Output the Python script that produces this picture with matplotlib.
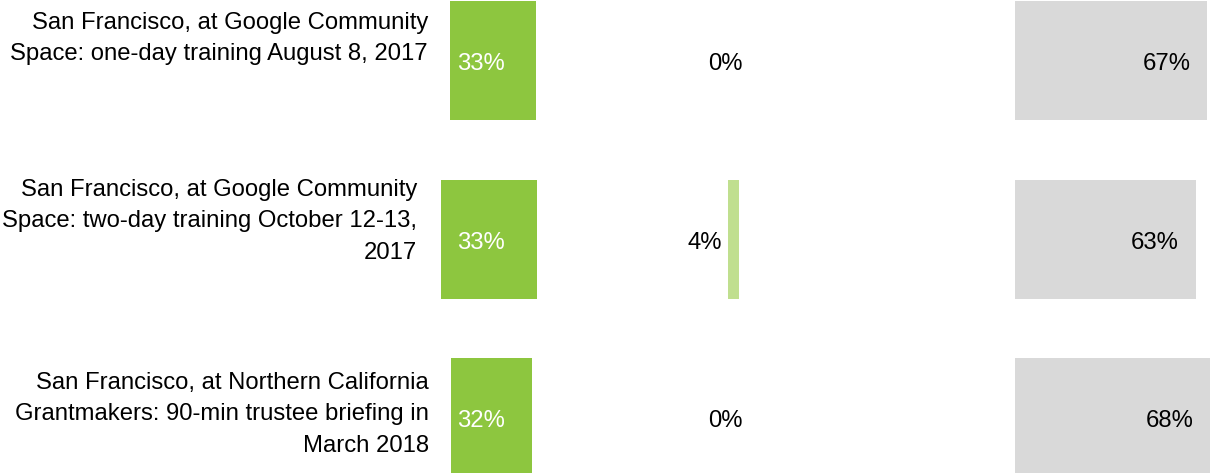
import matplotlib
matplotlib.use("Agg")
import matplotlib.pyplot as plt

plt.rcParams['font.family'] = ['Liberation Sans', 'DejaVu Sans']

# data
rows = [
    "San Francisco, at Google Community\nSpace: one-day training August 8, 2017",
    "San Francisco, at Google Community\nSpace: two-day training October 12-13,\n2017",
    "San Francisco, at Northern California\nGrantmakers: 90-min trustee briefing in\nMarch 2018",
]
first = [33, 33, 32]
second = [0, 4, 0]
third = [67, 63, 68]

GREEN = "#8DC63F"
LIGHT = "#C0DF8F"
GRAY = "#D9D9D9"
FS = 17.2

# layout in pixels (the original looks like three separate little charts glued together)
W, H = 1212, 473
row_top = [1, 180, 358]
bar_h = 119
label_right = [428, 417, 429]
label_top = [12, 179, 372]
green_left = [450, 441, 451]
green_scale = [2.61, 2.91, 2.53]
light_left = [749, 728, 749]
light_scale = 2.75
gray_left = 1015
gray_scale = 2.87

fig = plt.figure(figsize=(W / 100, H / 100), dpi=100)
ax = fig.add_axes([0, 0, 1, 1])
ax.set_xlim(0, W)
ax.set_ylim(H, 0)
ax.axis("off")

for i in range(3):
    yc = row_top[i] + bar_h / 2
    yb = yc + 9.5  # baseline of the value labels
    ax.text(label_right[i], label_top[i], rows[i], ha="right", va="top",
            fontsize=FS, linespacing=1.55, color="black")

    ax.barh(yc, first[i] * green_scale[i], left=green_left[i], height=bar_h, color=GREEN)
    ax.text(457, yb, f"{first[i]}%", ha="left", va="baseline", fontsize=FS, color="white")

    ax.barh(yc, second[i] * light_scale, left=light_left[i], height=bar_h, color=LIGHT)
    ax.text(light_left[i] - 6, yb, f"{second[i]}%", ha="right", va="baseline", fontsize=FS)

    gw = third[i] * gray_scale
    ax.barh(yc, gw, left=gray_left, height=bar_h, color=GRAY)
    ax.text(gray_left + gw - 17, yb, f"{third[i]}%", ha="right", va="baseline", fontsize=FS)

plt.savefig("out.png", dpi=100)
